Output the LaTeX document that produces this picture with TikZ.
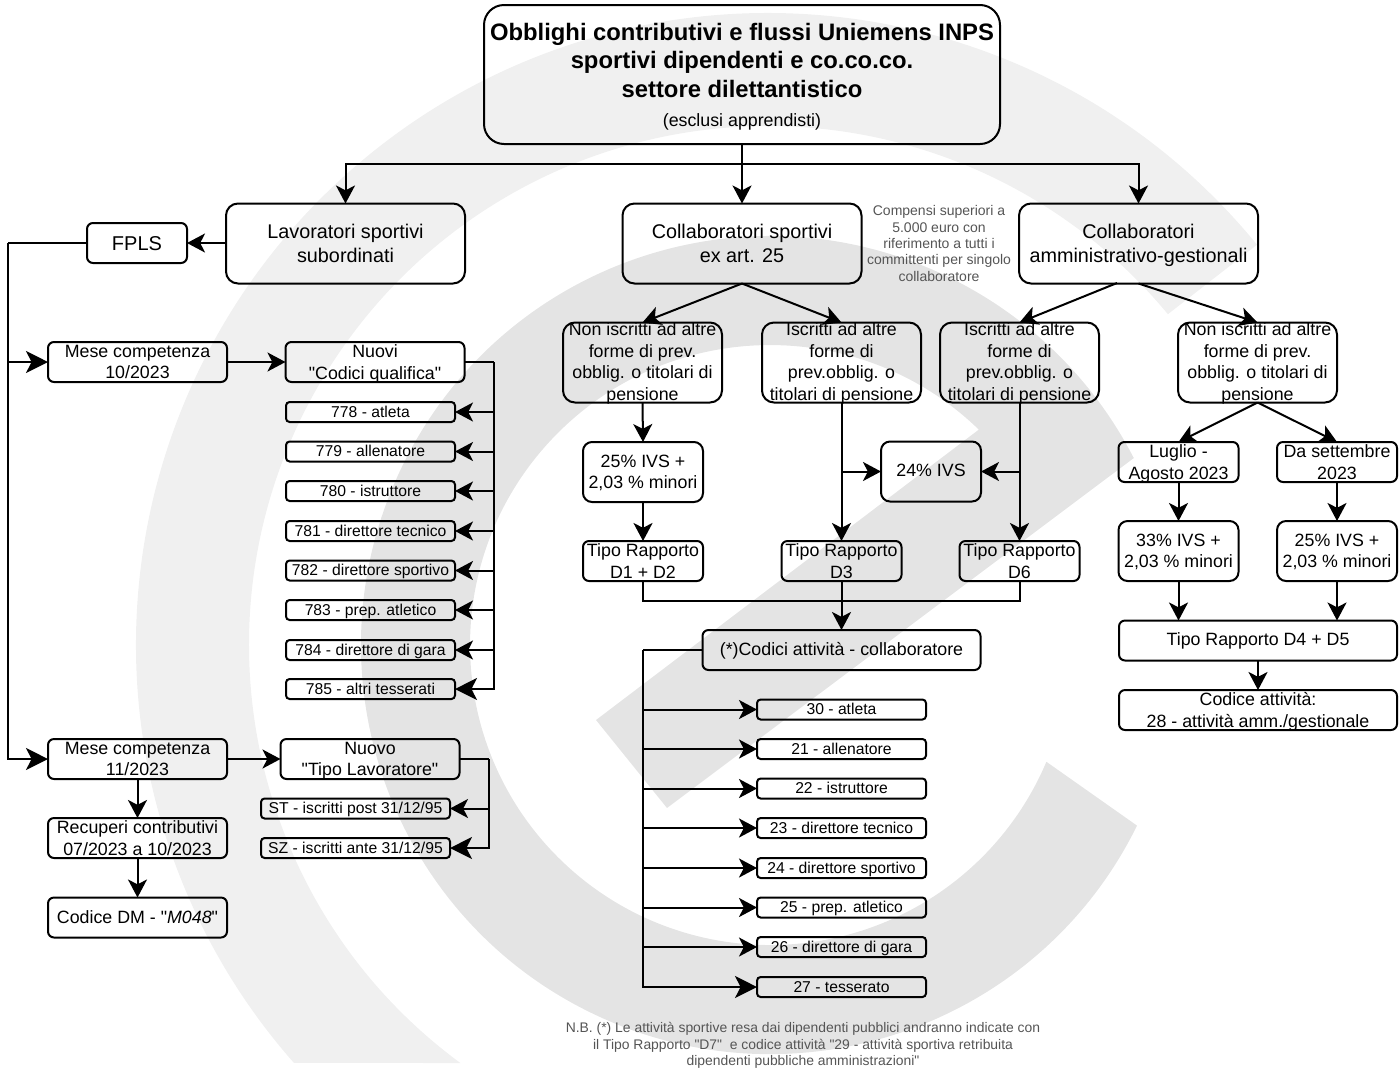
\documentclass[tikz,border=0pt]{standalone}
\usepackage{fontspec}
\usepackage{xcolor}
\setmainfont{Liberation Sans}[Ligatures=TeXOff]
\usetikzlibrary{arrows.meta}
\definecolor{wmlight}{HTML}{F0F0F0}
\definecolor{wmdark}{HTML}{E4E4E4}
\definecolor{notegray}{HTML}{555555}
\newcommand{\boxup}{10pt}
\tikzset{
    strutup/.code={\renewcommand{\boxup}{#1}},
    flowbox/.style={draw, line width=1pt, inner xsep=0pt, inner ysep=-6pt, outer sep=0pt, align=center, execute at begin node={\rule{0pt}{\boxup}}, execute at end node={\rule[-2pt]{0pt}{2pt}}, font=\fontsize{8.9}{10.8}\selectfont},
    titlebox/.style={flowbox, text depth=0pt, minimum width=258pt, minimum height=69.5pt, rounded corners=10pt, font=\fontsize{11.9}{14.3}\selectfont},
    headbox/.style={flowbox, text depth=-0.3pt, minimum width=119.5pt, minimum height=40pt, rounded corners=6pt, font=\fontsize{9.9}{12}\selectfont},
    fplsbox/.style={flowbox, strutup=9pt, minimum width=50pt, minimum height=20pt, rounded corners=3pt, font=\fontsize{10}{12}\selectfont},
    casebox/.style={flowbox, text depth=0.9pt, minimum width=79.5pt, minimum height=40pt, rounded corners=6pt},
    monthbox/.style={flowbox, text depth=-0.8pt, minimum width=89.5pt, minimum height=20pt, rounded corners=3pt},
    typebox/.style={flowbox, text depth=-0.8pt, minimum width=60pt, minimum height=20pt, rounded corners=3pt},
    widebox/.style={flowbox, minimum width=139pt, minimum height=20pt, rounded corners=3pt},
    ratebox/.style={flowbox, text depth=0.2pt, minimum width=60pt, minimum height=30pt, rounded corners=4.5pt},
    codebox/.style={flowbox, strutup=7pt, minimum width=84.5pt, minimum height=10pt, rounded corners=1.8pt, font=\fontsize{7.85}{9.5}\selectfont},
    notetext/.style={inner sep=0pt, align=center, text=notegray, font=\fontsize{7}{8.15}\selectfont},
    line/.style={line width=1pt},
    link/.style={line, -{Stealth[length=9pt,width=9.5pt,inset=2.4pt]}},
    biglink/.style={line, -{Stealth[length=11pt,width=11pt,inset=2.8pt]}}
}

\begin{document}
\begin{tikzpicture}[x=0.5pt, y=-0.5pt]
        \useasboundingbox (0,0) rectangle (1400,1077);

        \fill[wmlight] (1257,244.7) arc[start angle=39.3, end angle=221.4, radius=316pt] -- (460.4,1063) arc[start angle=233.65, end angle=39.6, radius=259.5pt] -- cycle;
        \fill[wmdark] (1133.8,458) -- (667,808) -- (596,720) -- (978.8,429.6) arc[start angle=45.9, end angle=337.1, radius=150pt] -- (1137,825.6) arc[start angle=333.8, end angle=27.2, radius=204.5pt] -- cycle;

        \node[titlebox] (title) at (742,74.5) {\textbf{Obblighi contributivi e flussi Uniemens INPS}\\\textbf{sportivi dipendenti e co.co.co.}\\\textbf{settore dilettantistico}\\{\fontsize{8.9}{10.8}\selectfont (esclusi apprendisti)}};

        \node[headbox] (lav) at (345.5,243.5) {Lavoratori sportivi\\subordinati};
        \node[headbox] (collab) at (742,243.5) {Collaboratori sportivi\\ex art. 25};
        \node[headbox] (amm) at (1138.5,243.5) {Collaboratori\\amministrativo-gestionali};
        \node[fplsbox] (fpls) at (137,243) {FPLS};
        \node[notetext] (soglia) at (939,243.5) {Compensi superiori a\\5.000 euro con\\riferimento a tutti i\\committenti per singolo\\collaboratore};

        \node[monthbox] (mese1) at (137.5,362) {Mese competenza\\10/2023};
        \node[monthbox] (nuovi) at (375,362) {Nuovi\\"Codici qualifica"};
        \node[codebox] (q778) at (370.5,412) {778 - atleta};
        \node[codebox] (q779) at (370.5,451.5) {779 - allenatore};
        \node[codebox] (q780) at (370.5,491) {780 - istruttore};
        \node[codebox] (q781) at (370.5,531) {781 - direttore tecnico};
        \node[codebox] (q782) at (370.5,570.5) {782 - direttore sportivo};
        \node[codebox] (q783) at (370.5,610) {783 - prep. atletico};
        \node[codebox] (q784) at (370.5,650) {784 - direttore di gara};
        \node[codebox] (q785) at (370.5,689) {785 - altri tesserati};

        \node[monthbox] (mese2) at (137.5,759) {Mese competenza\\11/2023};
        \node[monthbox] (nuovo) at (370,759) {Nuovo\\"Tipo Lavoratore"};
        \node[codebox, minimum width=94.5pt] (st) at (355.5,808.5) {ST - iscritti post 31/12/95};
        \node[codebox, minimum width=94.5pt] (sz) at (355.5,848) {SZ - iscritti ante 31/12/95};
        \node[monthbox] (recuperi) at (137.5,838) {Recuperi contributivi\\07/2023 a 10/2023};
        \node[monthbox, strutup=8pt, text depth=2pt] (dm) at (137.5,917.5) {Codice DM - "\textit{M048}"};

        \node[casebox] (non1) at (642.5,362.5) {Non iscritti ad altre\\forme di prev.\\obblig. o titolari di\\pensione};
        \node[casebox] (isc1) at (841.5,362.5) {Iscritti ad altre\\forme di\\prev.obblig. o\\titolari di pensione};
        \node[casebox] (isc2) at (1019.5,362.5) {Iscritti ad altre\\forme di\\prev.obblig. o\\titolari di pensione};
        \node[casebox] (non2) at (1257.5,362.5) {Non iscritti ad altre\\forme di prev.\\obblig. o titolari di\\pensione};

        \node[ratebox] (ivs25) at (643,472) {25\% IVS +\\2,03 \% minori};
        \node[ratebox, strutup=7pt, text depth=2pt, minimum width=50pt] (ivs24) at (931,471.5) {24\% IVS};
        \node[typebox] (d1) at (643,561) {Tipo Rapporto\\D1 + D2};
        \node[typebox] (d3) at (841.5,561) {Tipo Rapporto\\D3};
        \node[typebox] (d6) at (1019.5,561) {Tipo Rapporto\\D6};
        \node[widebox, strutup=7pt] (codici) at (841.5,650) {(*)Codici attività - collaboratore};

        \node[codebox] (c30) at (841.5,709.5) {30 - atleta};
        \node[codebox] (c21) at (841.5,749) {21 - allenatore};
        \node[codebox] (c22) at (841.5,788.5) {22 - istruttore};
        \node[codebox] (c23) at (841.5,828) {23 - direttore tecnico};
        \node[codebox] (c24) at (841.5,868) {24 - direttore sportivo};
        \node[codebox] (c25) at (841.5,907.5) {25 - prep. atletico};
        \node[codebox] (c26) at (841.5,947) {26 - direttore di gara};
        \node[codebox] (c27) at (841.5,987) {27 - tesserato};

        \node[typebox] (luglio) at (1178.5,462) {Luglio -\\Agosto 2023};
        \node[typebox] (sett) at (1337,462) {Da settembre\\2023};
        \node[ratebox] (ivs33) at (1178.5,551) {33\% IVS +\\2,03 \% minori};
        \node[ratebox] (ivs25b) at (1337,551) {25\% IVS +\\2,03 \% minori};
        \node[widebox, strutup=7pt] (d4) at (1258,640.5) {Tipo Rapporto D4 + D5};
        \node[widebox, text depth=-0.8pt] (att28) at (1258,710) {Codice attività:\\28 - attività amm./gestionale};

        \node[notetext, font=\fontsize{6.95}{8.4}\selectfont] (nb) at (803,1045.5) {N.B. (*) Le attività sportive resa dai dipendenti pubblici andranno indicate con\\il Tipo Rapporto "D7"\ \ e codice attività "29 - attività sportiva retribuita\\dipendenti pubbliche amministrazioni"};

        \coordinate (topbus) at (742,164);
        \coordinate (fplsbus) at (8,243);
        \coordinate (qualbus) at (494,362);
        \coordinate (tipobus) at (489,759);
        \coordinate (codbus) at (643,650);
        \coordinate (isc1mid) at (841.5,471.5);
        \coordinate (isc2mid) at (1019.5,471.5);
        \coordinate (mergebus) at (1019.5,600.5);
        \coordinate (ammleft) at (1117,283);

        \draw[link] (title) -- (collab);
        \draw[link] (topbus) -| (lav.north);
        \draw[link] (topbus) -| (amm.north);
        \draw[link] (lav.west |- fpls.east) -- (fpls.east);
        \draw[line] (fpls.west) -- (fplsbus);
        \draw[biglink] (fplsbus) |- (mese1.west);
        \draw[biglink] (fplsbus) |- (mese2.west);

        \draw[link] (mese1.east) -- (nuovi.west);
        \draw[line] (nuovi.east) -- (qualbus);
        \draw[link] (qualbus) |- (q778.east);
        \draw[link] (qualbus) |- (q779.east);
        \draw[link] (qualbus) |- (q780.east);
        \draw[link] (qualbus) |- (q781.east);
        \draw[link] (qualbus) |- (q782.east);
        \draw[link] (qualbus) |- (q783.east);
        \draw[link] (qualbus) |- (q784.east);
        \draw[biglink] (qualbus) |- (q785.east);

        \draw[link] (mese2.east) -- (nuovo.west);
        \draw[line] (nuovo.east) -- (tipobus);
        \draw[link] (tipobus) |- (st.east);
        \draw[biglink] (tipobus) |- (sz.east);
        \draw[link] (mese2.south) -- (recuperi.north);
        \draw[link] (recuperi.south) -- (dm.north);

        \draw[link] (collab.south) -- (non1.north);
        \draw[link] (collab.south) -- (isc1.north);
        \draw[link] (ammleft) -- (isc2.north);
        \draw[link] (amm.south) -- (non2.north);

        \draw[link] (non1.south) -- (ivs25.north);
        \draw[link] (ivs25.south) -- (d1.north);
        \draw[link] (isc1.south) -- (d3.north);
        \draw[link] (isc2.south) -- (d6.north);
        \draw[link] (isc1mid) -- (ivs24.west);
        \draw[link] (isc2mid) -- (ivs24.east);
        \draw[line] (d1.south) |- (mergebus) -- (d6.south);
        \draw[link] (d3.south) -- (codici.north);

        \draw[line] (codici.west) -- (codbus);
        \draw[link] (codbus) |- (c30.west);
        \draw[link] (codbus) |- (c21.west);
        \draw[link] (codbus) |- (c22.west);
        \draw[link] (codbus) |- (c23.west);
        \draw[link] (codbus) |- (c24.west);
        \draw[link] (codbus) |- (c25.west);
        \draw[link] (codbus) |- (c26.west);
        \draw[biglink] (codbus) |- (c27.west);

        \draw[link] (non2.south) -- (luglio.north);
        \draw[link] (non2.south) -- (sett.north);
        \draw[link] (luglio.south) -- (ivs33.north);
        \draw[link] (sett.south) -- (ivs25b.north);
        \draw[link] (ivs33.south) -- (ivs33.south |- d4.north);
        \draw[link] (ivs25b.south) -- (ivs25b.south |- d4.north);
        \draw[link] (d4.south) -- (att28.north);
    \end{tikzpicture}
\end{document}
